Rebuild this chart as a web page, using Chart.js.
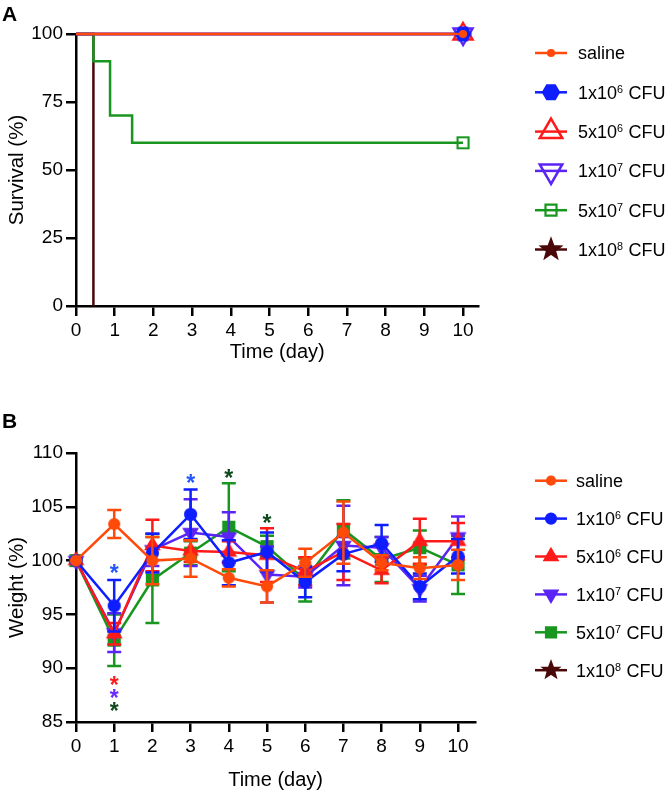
<!DOCTYPE html>
<html><head><meta charset="utf-8">
<script src="https://cdn.jsdelivr.net/npm/chart.js@4.4.1/dist/chart.umd.min.js"></script>
<style>
html,body{margin:0;padding:0;background:#fff;}
#wrap{position:relative;width:667px;height:792px;overflow:hidden;}
canvas{position:absolute;left:0;}
#cA{top:0;} #cB{top:370px;}
</style></head><body>
<div id="wrap"><canvas id="cA" width="667" height="370"></canvas><canvas id="cB" width="667" height="422"></canvas></div>
<script>
// ---------------- data ----------------
const groups = ['saline', '1x10^6 CFU', '5x10^6 CFU', '1x10^7 CFU', '5x10^7 CFU', '1x10^8 CFU'];
const colors = ['#FF4A0A', '#0F1EFF', '#FF1A1A', '#5A24F5', '#19961F', '#4A0808'];

// Panel A: Kaplan-Meier survival (time in days, survival in %)
const survTimeSaline = [0, 10];      const survSaline = [100, 100];
const survTime1e6    = [0, 10];      const surv1e6    = [100, 100];
const survTime5e6    = [0, 10];      const surv5e6    = [100, 100];
const survTime1e7    = [0, 10];      const surv1e7    = [100, 100];
const survTime5e7    = [0, 0.45, 0.88, 1.45, 10]; const surv5e7 = [100, 90, 70, 60, 60];
const survTime1e8    = [0, 0.45];    const surv1e8    = [100, 0];

// Panel B: body weight (% of day 0), mean and SD
const days = [0, 1, 2, 3, 4, 5, 6, 7, 8, 9, 10];
const wSaline = [100, 103.4, 100.0, 100.2, 98.4, 97.6, 99.8, 102.6, 99.8, 99.3, 99.6];
const sdSaline = [0, 1.3, 2.2, 1.7, 0.8, 1.5, 1.3, 2.9, 0.7, 1.0, 1.4];
const w1e6 = [100, 95.8, 100.7, 104.3, 99.8, 100.8, 98.0, 100.6, 101.6, 97.6, 100.4];
const sd1e6 = [0, 2.4, 1.8, 2.3, 2.1, 1.8, 1.4, 1.6, 1.7, 1.2, 1.6];
const w5e6 = [100, 93.2, 101.4, 100.9, 100.8, 100.5, 99.0, 100.8, 99.1, 101.8, 101.8];
const sd5e6 = [0, 1.0, 2.4, 1.0, 1.0, 2.5, 1.3, 2.6, 1.2, 2.1, 1.7];
const w1e7 = [100, 93.3, 101.0, 102.6, 102.2, 98.7, 98.5, 101.4, 101.2, 97.4, 102.2];
const sd1e7 = [0, 1.8, 1.5, 3.1, 2.3, 2.6, 1.0, 3.7, 1.0, 1.2, 1.9];
const w5e7 = [100, 92.6, 98.2, 100.7, 103.1, 101.3, 98.2, 102.9, 100.1, 101.2, 99.6];
const sd5e7 = [0, 2.4, 4.0, 1.1, 4.1, 1.0, 2.0, 2.7, 2.1, 1.6, 2.7];
const w1e8 = [];
const sd1e8 = [];

// significance asterisks (day, weight level, group index)
const sigDay   = [1, 1, 1, 1, 3, 4, 5];
const sigLevel = [99.3, 88.9, 87.7, 86.5, 107.7, 108.2, 104.0];
const sigGroup = [1, 2, 3, 4, 1, 4, 4];
const sigColors = ['#FF4A0A', '#2458FF', '#FF1A1A', '#6A2BFF', '#0E4A1C', '#4A0808'];

// tick labels
const dayTicks = [0, 1, 2, 3, 4, 5, 6, 7, 8, 9, 10];
const survTicks = [0, 25, 50, 75, 100];
const weightTicks = [85, 90, 95, 100, 105, 110];

// ---------------- helpers ----------------
const FONT = '"Liberation Sans", Arial, Helvetica, sans-serif';

function shapePath(ctx, style, x, y, r) {
  ctx.beginPath();
  if (style === 'circle') {
    ctx.arc(x, y, r, 0, Math.PI * 2);
  } else if (style === 'triangle' || style === 'triangleDown') {
    const off = style === 'triangle' ? 0 : Math.PI;
    for (let k = 0; k < 3; k++) {
      const a = off + k * 2 * Math.PI / 3;
      const px = x + Math.sin(a) * r, py = y - Math.cos(a) * r;
      k ? ctx.lineTo(px, py) : ctx.moveTo(px, py);
    }
    ctx.closePath();
  } else if (style === 'rect') {
    ctx.rect(x - r, y - r, 2 * r, 2 * r);
  } else if (style === 'hexagon') {
    for (let k = 0; k < 6; k++) {
      const a = k * Math.PI / 3;
      const px = x + Math.cos(a) * r, py = y + Math.sin(a) * r;
      k ? ctx.lineTo(px, py) : ctx.moveTo(px, py);
    }
    ctx.closePath();
  } else if (style === 'star') {
    for (let k = 0; k < 10; k++) {
      const a = k * Math.PI / 5;
      const rr = k % 2 ? r * 0.42 : r;
      const px = x + Math.sin(a) * rr, py = y - Math.cos(a) * rr;
      k ? ctx.lineTo(px, py) : ctx.moveTo(px, py);
    }
    ctx.closePath();
  }
}
function drawMarker(ctx, m, x, y, color) {
  ctx.save();
  shapePath(ctx, m.style, x, y, m.r);
  if (m.filled) { ctx.fillStyle = color; ctx.fill(); }
  ctx.strokeStyle = color; ctx.lineWidth = m.lw || 2.2; ctx.lineJoin = 'miter';
  ctx.stroke();
  ctx.restore();
}
function markerImage(m, color) {
  const size = Math.ceil(m.r * 2 + 6);
  const c = document.createElement('canvas');
  c.width = size; c.height = size;
  drawMarker(c.getContext('2d'), m, size / 2, size / 2, color);
  return c;
}
function drawRich(ctx, label, x, y, size) {
  const parts = label.split(/\^(\d+)/);
  let cx = x;
  const base = y + size * 0.36;
  parts.forEach((p, i) => {
    const sup = i % 2 === 1;
    const fs = sup ? size * 0.6 : size;
    ctx.font = fs + 'px ' + FONT;
    ctx.fillText(p, cx, sup ? base - size * 0.34 : base);
    cx += ctx.measureText(p).width + (sup ? 0.5 : 0);
  });
}

const legendPlugin = {
  id: 'customLegend',
  afterDraw(chart, args, o) {
    const ctx = chart.ctx;
    groups.forEach((g, i) => {
      const y = o.y0 + i * o.dy;
      ctx.save();
      ctx.strokeStyle = colors[i]; ctx.lineWidth = 2.5;
      ctx.beginPath(); ctx.moveTo(o.x0, y); ctx.lineTo(o.x1, y); ctx.stroke();
      drawMarker(ctx, o.markers[i], (o.x0 + o.x1) / 2, y, colors[i]);
      ctx.fillStyle = '#000'; ctx.textBaseline = 'alphabetic'; ctx.textAlign = 'left';
      drawRich(ctx, g, o.tx, y, o.size);
      ctx.restore();
    });
    // panel letter
    ctx.save();
    ctx.fillStyle = '#000'; ctx.font = 'bold 21px ' + FONT; ctx.textBaseline = 'alphabetic';
    ctx.fillText(o.letter, o.letterX, o.letterY);
    ctx.restore();
  }
};

const errorBarPlugin = {
  id: 'errorBars',
  beforeDatasetDraw(chart, args) {
    const ds = chart.data.datasets[args.index];
    if (!ds.sd) return;
    const ctx = chart.ctx, xs = chart.scales.x, ys = chart.scales.y;
    ctx.save();
    ctx.strokeStyle = ds.borderColor; ctx.lineWidth = 2.5;
    ds.data.forEach((p, i) => {
      const s = ds.sd[i];
      if (!s) return;
      const x = xs.getPixelForValue(p.x);
      const yT = ys.getPixelForValue(p.y + s), yB = ys.getPixelForValue(p.y - s);
      ctx.beginPath();
      ctx.moveTo(x, yT); ctx.lineTo(x, yB);
      ctx.moveTo(x - 7, yT); ctx.lineTo(x + 7, yT);
      ctx.moveTo(x - 7, yB); ctx.lineTo(x + 7, yB);
      ctx.stroke();
    });
    ctx.restore();
  }
};

const asteriskPlugin = {
  id: 'asterisks',
  afterDatasetsDraw(chart) {
    const ctx = chart.ctx, xs = chart.scales.x, ys = chart.scales.y;
    ctx.save();
    ctx.font = 'bold 23px ' + FONT; ctx.textAlign = 'center'; ctx.textBaseline = 'alphabetic';
    sigDay.forEach((d, i) => {
      ctx.fillStyle = sigColors[sigGroup[i]];
      ctx.fillText('*', xs.getPixelForValue(d), ys.getPixelForValue(sigLevel[i]) + 23 * 0.58);
    });
    ctx.restore();
  }
};

function axisX(maxDay, h) {
  return {
    type: 'linear', min: 0, max: maxDay,
    afterBuildTicks: s => { s.ticks = dayTicks.map(v => ({ value: v })); },
    afterFit: s => { s.height = h; },
    border: { display: true, color: '#000', width: 2.5 },
    grid: { display: true, drawOnChartArea: false, drawTicks: true, tickLength: 10, color: '#000', lineWidth: 2.5 },
    ticks: { color: '#000', font: { family: FONT, size: 19 }, padding: 3, maxRotation: 0, autoSkip: false },
    title: { display: true, text: 'Time (day)', color: '#000', font: { family: FONT, size: 20 }, padding: { top: 0, bottom: 0 } }
  };
}
function axisY(min, max, ticks, title) {
  return {
    type: 'linear', min: min, max: max,
    afterBuildTicks: s => { s.ticks = ticks.map(v => ({ value: v })); },
    afterFit: s => { s.width = 76; },
    border: { display: true, color: '#000', width: 2.5 },
    grid: { display: true, drawOnChartArea: false, drawTicks: true, tickLength: 10, color: '#000', lineWidth: 2.5 },
    ticks: { color: '#000', font: { family: FONT, size: 19 }, padding: 3, autoSkip: false },
    title: { display: true, text: title, color: '#000', font: { family: FONT, size: 20.5 }, padding: { top: 5, bottom: 0 } }
  };
}

// ---------------- Panel A ----------------
const survTimes = [survTimeSaline, survTime1e6, survTime5e6, survTime1e7, survTime5e7, survTime1e8];
const survVals = [survSaline, surv1e6, surv5e6, surv1e7, surv5e7, surv1e8];
const markersA = [
  { style: 'circle', r: 3, filled: true },
  { style: 'hexagon', r: 7.5, filled: true },
  { style: 'triangle', r: 11, filled: false, lw: 2.4 },
  { style: 'triangleDown', r: 11, filled: false, lw: 2.4 },
  { style: 'rect', r: 5.5, filled: false, lw: 2.2 },
  { style: 'star', r: 10, filled: true }
];
const legendMarkersA = [
  { style: 'circle', r: 3, filled: true },
  { style: 'hexagon', r: 8, filled: true },
  { style: 'triangle', r: 13, filled: false, lw: 2.5 },
  { style: 'triangleDown', r: 13, filled: false, lw: 2.5 },
  { style: 'rect', r: 5.5, filled: false, lw: 2.2 },
  { style: 'star', r: 10, filled: true }
];
const dsA = groups.map((g, i) => {
  const pts = survTimes[i].map((t, k) => ({ x: t, y: survVals[i][k] }));
  const img = markerImage(markersA[i], colors[i]);
  const showEnd = survVals[i][survVals[i].length - 1] > 0;
  return {
    label: g, data: pts, stepped: true,
    borderColor: colors[i], backgroundColor: colors[i], borderWidth: 2.5,
    pointStyle: img,
    pointRadius: pts.map((p, k) => (showEnd && k === pts.length - 1) ? 8 : 0),
    pointHoverRadius: 0, clip: false
  };
});
new Chart(document.getElementById('cA'), {
  type: 'line',
  data: { datasets: dsA },
  options: {
    responsive: false, animation: false, events: [],
    layout: { padding: { left: 0, right: 188.5, top: 34, bottom: 6 } },
    plugins: {
      legend: { display: false }, tooltip: { enabled: false },
      customLegend: { x0: 535, x1: 567, tx: 578, y0: 53, dy: 39.3, size: 18, markers: legendMarkersA, letter: 'A', letterX: 2, letterY: 21 }
    },
    scales: { x: axisX(10.4, 58), y: axisY(0, 100, survTicks, 'Survival (%)') }
  },
  plugins: [legendPlugin]
});

// ---------------- Panel B ----------------
const wMeans = [wSaline, w1e6, w5e6, w1e7, w5e7, w1e8];
const wSDs = [sdSaline, sd1e6, sd5e6, sd1e7, sd5e7, sd1e8];
const markersB = [
  { style: 'circle', r: 5, filled: true },
  { style: 'circle', r: 5.5, filled: true },
  { style: 'triangle', r: 7.5, filled: true },
  { style: 'triangleDown', r: 7.5, filled: true },
  { style: 'rect', r: 5.5, filled: true },
  { style: 'star', r: 8, filled: true }
];
const legendMarkersB = [
  { style: 'circle', r: 4, filled: true },
  { style: 'circle', r: 5, filled: true },
  { style: 'triangle', r: 7.5, filled: true },
  { style: 'triangleDown', r: 7.5, filled: true },
  { style: 'rect', r: 5, filled: true },
  { style: 'star', r: 8, filled: true }
];
const dsB = groups.map((g, i) => {
  const pts = wMeans[i].map((v, k) => ({ x: days[k], y: v }));
  return {
    label: g, data: pts, sd: wSDs[i],
    borderColor: colors[i], backgroundColor: colors[i], borderWidth: 2.5,
    pointStyle: markerImage(markersB[i], colors[i]), pointRadius: 8, pointHoverRadius: 0,
    tension: 0, clip: false
  };
});
new Chart(document.getElementById('cB'), {
  type: 'line',
  data: { datasets: dsB },
  options: {
    responsive: false, animation: false, events: [],
    layout: { padding: { left: 0, right: 191.8, top: 83, bottom: 0 } },
    plugins: {
      legend: { display: false }, tooltip: { enabled: false },
      customLegend: { x0: 535, x1: 567, tx: 576, y0: 110.7, dy: 37.9, size: 18, markers: legendMarkersB, letter: 'B', letterX: 2, letterY: 58 }
    },
    scales: { x: axisX(10.45, 70), y: axisY(85, 110, weightTicks, 'Weight (%)') }
  },
  plugins: [errorBarPlugin, asteriskPlugin, legendPlugin]
});
</script>
</body></html>
